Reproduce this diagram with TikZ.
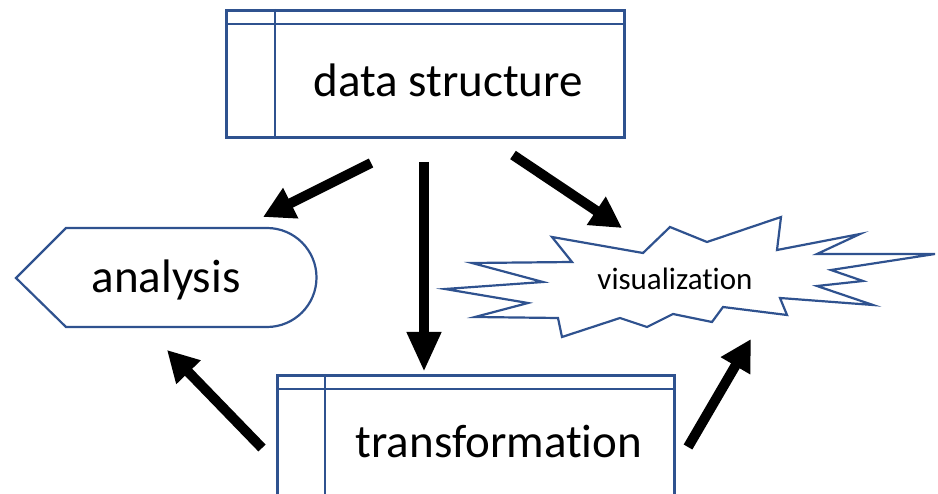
\documentclass[tikz,border=0pt]{standalone}
\usepackage{fontspec}
\setmainfont{Carlito}[Ligatures={NoCommon,NoContextual}]
\usetikzlibrary{arrows.meta}
\definecolor{shapeblue}{RGB}{47,82,143}
\begin{document}
\begin{tikzpicture}[x=1pt,y=-1pt,
  outline/.style={draw=shapeblue, line width=2.6pt, fill=white},
  inner/.style={draw=shapeblue, line width=2.6pt},
  boxshape/.style={outline, rectangle, inner sep=0pt, anchor=north west},
  bigtext/.style={font=\fontsize{47}{56}\selectfont, anchor=base, inner sep=0pt},
  smalltext/.style={font=\fontsize{31}{37}\selectfont, anchor=base, inner sep=0pt},
  fatarrow/.style={line width=10pt, -{Triangle[length=31pt,width=32pt]}},
]
\useasboundingbox (0,0) rectangle (938,494);
\clip (0,0) rectangle (938,494);

% data structure box
\node[boxshape, minimum width=398pt, minimum height=127pt] (ds) at (225,9) {};
\draw[inner] ([yshift=-15pt]ds.north west) -- ([yshift=-15pt]ds.north east);
\draw[inner] ([xshift=50pt]ds.north west) -- ([xshift=50pt]ds.south west);
\node[bigtext] (dstext) at (448,97) {data structure};

% transformation box
\node[boxshape, minimum width=397pt, minimum height=127pt] (tf) at (276,374) {};
\draw[inner] ([yshift=-15pt]tf.north west) -- ([yshift=-15pt]tf.north east);
\draw[inner] ([xshift=49pt]tf.north west) -- ([xshift=49pt]tf.south west);
\node[bigtext] (tftext) at (499,458) {transformation};

% analysis shape
\draw[outline, line width=2.2pt] (16,278) -- (66,228) -- (267,228)
  arc[start angle=90, end angle=-90, radius=49.5pt] -- (66,327) -- cycle;
\node[bigtext] (antext) at (166,293) {analysis};

% visualization starburst
\draw[outline, line width=2.2pt] (670,227) -- (707,242) -- (781,217) -- (777,250)
  -- (860,234) -- (817,254) -- (935,254) -- (831,270) -- (863,281) -- (817,286)
  -- (873,305) -- (780,298) -- (787,315) -- (723,307) -- (712,322) -- (673,314)
  -- (647,327) -- (620,318) -- (562,337) -- (558,318) -- (475,317) -- (528,303)
  -- (445,289) -- (543,282) -- (472,263) -- (572,262) -- (552,237) -- (643,253)
  -- cycle;
\node[smalltext] (vistext) at (675,290) {visualization};

% arrows
\coordinate (a1s) at (371,163); \coordinate (a1e) at (263,217);
\coordinate (a2s) at (424,162); \coordinate (a2e) at (424,372);
\coordinate (a3s) at (513,155); \coordinate (a3e) at (622,228);
\coordinate (a4s) at (262,448); \coordinate (a4e) at (167,350);
\coordinate (a5s) at (688,447); \coordinate (a5e) at (751,339);
\draw[fatarrow] (a1s) -- (a1e);
\draw[line width=10pt, -{Triangle[length=40pt,width=32pt]}] (a2s) -- (a2e);
\draw[fatarrow] (a3s) -- (a3e);
\draw[fatarrow] (a4s) -- (a4e);
\draw[fatarrow] (a5s) -- (a5e);
\end{tikzpicture}
\end{document}
